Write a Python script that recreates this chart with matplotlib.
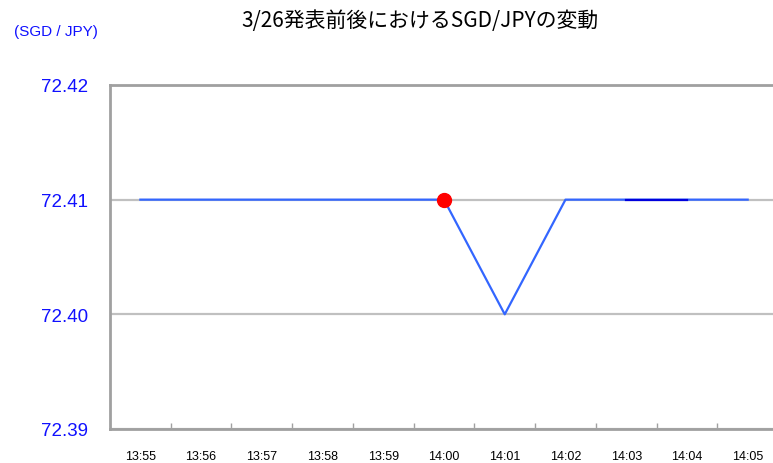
import numpy as np
import matplotlib
matplotlib.use("Agg")
import matplotlib.pyplot as plt

plt.rcParams['font.family'] = ['Liberation Sans', 'Noto Sans CJK JP', 'DejaVu Sans']

# data
times = ["13:55", "13:56", "13:57", "13:58", "13:59", "14:00",
         "14:01", "14:02", "14:03", "14:04", "14:05"]
rate = [72.41, 72.41, 72.41, 72.41, 72.41, 72.41,
        72.40, 72.41, 72.41, 72.41, 72.41]
# darker stretch of the line
dark = [np.nan] * 8 + [72.41, 72.41, np.nan]
release_idx = 5  # 14:00 announcement
y_ticks = [72.39, 72.40, 72.41, 72.42]

LINE = "#3366FF"
DARK = "#0000DD"
SPINE = "#A0A0A0"
GRID = "#C0C0C0"

fig = plt.figure(figsize=(7.73, 4.64), dpi=100)
ax = fig.add_axes([0.1423, 0.0733, 0.8642, 0.7414])

x = np.arange(len(times))
ax.plot(x, rate, color=LINE, lw=1.6, zorder=3)
ax.plot(x, dark, color=DARK, lw=1.6, zorder=4)
ax.plot(x[release_idx], rate[release_idx], "o", color="#FF0000",
        ms=10, mec="#FF0000", zorder=5)

ax.set_xlim(-0.5, len(times) - 0.5)
ax.set_ylim(72.39, 72.42)
ax.set_yticks(y_ticks)
ax.set_yticklabels([f"{v:.2f}" for v in y_ticks], color="#1010FF", fontsize=13.5)
ax.yaxis.grid(True, color=GRID, lw=1.6, zorder=1)

ax.set_xticks(x)
ax.set_xticklabels(times, fontsize=9)
ax.set_xticks(np.arange(0.5, len(times) - 0.5, 1), minor=True)
ax.tick_params(axis="x", which="major", length=0, pad=15)
ax.tick_params(axis="x", which="minor", direction="in", length=4,
               color=SPINE, width=1)
ax.tick_params(axis="y", direction="in", length=0, pad=16)

for side in ["left", "bottom", "top"]:
    ax.spines[side].set_color(SPINE)
    ax.spines[side].set_linewidth(2)
ax.spines["right"].set_visible(False)

fig.text(0.543, 0.955, "3/26発表前後におけるSGD/JPYの変動", ha="center", va="center",
         fontsize=15, family=['Noto Sans CJK JP', 'DejaVu Sans'])
fig.text(0.073, 0.93, "(SGD / JPY)", ha="center", va="center",
         fontsize=11, color="#1010FF")

fig.savefig("out.png", dpi=100)
